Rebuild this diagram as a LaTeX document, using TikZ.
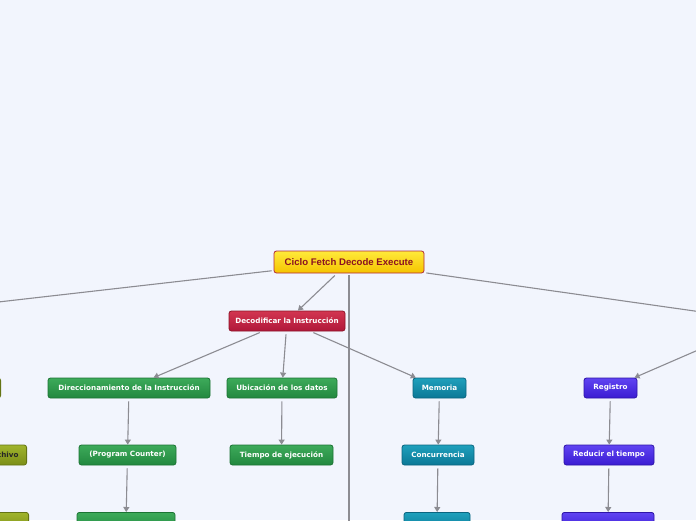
\documentclass[tikz,border=0pt]{standalone}
\usepackage{fontspec}
\setmainfont{DejaVu Sans}
\newfontfamily\rootfont{Liberation Sans}
\usetikzlibrary{arrows.meta}
\definecolor{bg}{HTML}{F2F5FD}
\definecolor{conn}{HTML}{8C8C92}
\definecolor{rootTop}{HTML}{FFEA3A}
\definecolor{rootBot}{HTML}{F5C400}
\definecolor{rootBd}{HTML}{B02A3A}
\definecolor{rootTx}{HTML}{8B1020}
\definecolor{redTop}{HTML}{D23550}
\definecolor{redBot}{HTML}{B0183A}
\definecolor{redBd}{HTML}{8E1428}
\definecolor{grnTop}{HTML}{3DAA5A}
\definecolor{grnBot}{HTML}{22883F}
\definecolor{grnBd}{HTML}{1C7434}
\definecolor{tealTop}{HTML}{1FA0BC}
\definecolor{tealBot}{HTML}{0B7896}
\definecolor{tealBd}{HTML}{0A6580}
\definecolor{purTop}{HTML}{6044F2}
\definecolor{purBot}{HTML}{3A1CD2}
\definecolor{purBd}{HTML}{2E15A8}
\definecolor{olvTop}{HTML}{A0B42C}
\definecolor{olvBot}{HTML}{7C8E18}
\definecolor{olvBd}{HTML}{647414}
\tikzset{
  box/.style={rounded corners=2.5pt, line width=0.8pt, minimum height=20pt, inner sep=0pt,
    font=\fontsize{7.2}{8}\selectfont\bfseries, text=white},
  rootbox/.style={box, minimum height=22pt, minimum width=150pt, draw=rootBd, top color=rootTop, bottom color=rootBot,
    text=rootTx, font=\rootfont\fontsize{9.6}{11}\selectfont\bfseries},
  redbox/.style={box, draw=redBd, top color=redTop, bottom color=redBot},
  grnbox/.style={box, draw=grnBd, top color=grnTop, bottom color=grnBot},
  tealbox/.style={box, draw=tealBd, top color=tealTop, bottom color=tealBot},
  purbox/.style={box, draw=purBd, top color=purTop, bottom color=purBot},
  olvbox/.style={box, draw=olvBd, top color=olvTop, bottom color=olvBot, text=black!85},
  conn/.style={draw=conn, line width=1.1pt},
  arr/.style={conn, shorten <=3pt, -{Triangle[width=6pt,length=5pt]}},
}
\begin{document}
\begin{tikzpicture}[x=1pt,y=-1pt]
\fill[bg] (0,0) rectangle (696,520);
\useasboundingbox (0,0) rectangle (696,520);
\clip (0,0) rectangle (696,520);
% off-canvas branch points
\coordinate (L) at (-168,321);
\coordinate (R) at (765,321);
\coordinate (D) at (349,900);
% nodes
\node[rootbox] (root) at (349,262) {Ciclo Fetch Decode Execute};
\node[redbox, minimum width=116pt] (dec) at (287,321) {Decodificar la Instrucción};
\node[grnbox, minimum width=162pt] (dir) at (129,388) {Direccionamiento de la Instrucción};
\node[grnbox, minimum width=110pt] (ubi) at (282,388) {Ubicación de los datos};
\node[tealbox, minimum width=53pt] (mem) at (439.5,388) {Memoria};
\node[purbox, minimum width=53pt] (reg) at (610.5,388) {Registro};
\node[grnbox, minimum width=97pt] (pc) at (127.5,455) {(Program Counter)};
\node[grnbox, minimum width=103pt] (tie) at (281.5,455) {Tiempo de ejecución};
\node[tealbox, minimum width=72pt] (con) at (438,455) {Concurrencia};
\node[purbox, minimum width=90pt] (red) at (609,455) {Reducir el tiempo};
\node[grnbox, minimum width=98pt, anchor=north] (g3) at (126,512) {};
\node[tealbox, minimum width=66pt, anchor=north] (t3) at (437,512) {};
\node[purbox, minimum width=92pt, anchor=north] (p3) at (608,512) {};
\node[olvbox, minimum width=60pt, anchor=east] (o1) at (1,388) {};
\node[olvbox, inner xsep=8pt, anchor=east] (o2) at (27,455) {Archivo};
\node[olvbox, minimum width=60pt, anchor=north east] (o3) at (29,512) {};
% connectors
\draw[conn, shorten <=2pt] (root) -- (L);
\draw[conn, shorten <=2pt] (root) -- (R);
\draw[conn, shorten <=2pt] (root) -- (D);
\draw[arr] (root) -- (dec);
\draw[arr] (dec) -- (dir);
\draw[arr] (dec) -- (ubi);
\draw[arr] (dec) -- (mem);
\draw[arr] (R) -- (reg);
\draw[arr] (dir) -- (pc);
\draw[arr] (ubi) -- (tie);
\draw[arr] (mem) -- (con);
\draw[arr] (reg) -- (red);
\draw[arr] (pc) -- (g3);
\draw[arr] (con) -- (t3);
\draw[arr] (red) -- (p3);
\end{tikzpicture}
\end{document}
